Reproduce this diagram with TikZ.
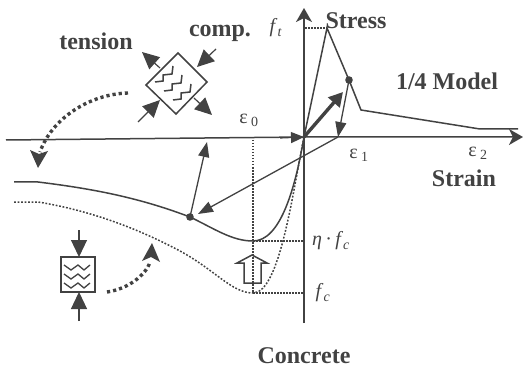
\documentclass[tikz,border=0pt]{standalone}
\usepackage{amsmath,amssymb}
\usepackage{fontspec}
\setmainfont{Liberation Serif}
\usetikzlibrary{arrows.meta}
\definecolor{inkgray}{gray}{0.26}
\tikzset{
	curveline/.style={draw=inkgray,line width=1.5pt},
	axisline/.style={draw=inkgray,line width=1.5pt,-{Stealth[length=14pt,width=16pt,inset=4pt]}},
	thinarrow/.style={draw=inkgray,line width=1.3pt,-{Triangle[length=15pt,width=11pt]}},
	loadarrow/.style={draw=inkgray,line width=1.2pt,-{Triangle[length=17pt,width=16pt]}},
	bigdots/.style={draw=inkgray,line width=3.4pt,dash pattern=on 3.2pt off 3pt},
	finedots/.style={draw=inkgray,line width=1.5pt,dash pattern=on 1.8pt off 1.7pt},
	guidedots/.style={draw=inkgray,line width=1.1pt,dash pattern=on 1.5pt off 1.5pt},
	boldlabel/.style={text=inkgray,font=\fontsize{24}{24}\selectfont\bfseries,inner sep=0pt},
	mathlabel/.style={text=inkgray,font=\fontsize{20}{20}\selectfont,inner sep=0pt},
}
\begin{document}
\begin{tikzpicture}[x=1pt,y=-1pt]
		\useasboundingbox (0,0) rectangle (523,369);
		% key points of the stress-strain path
		\coordinate (orig) at (304,137);
		\coordinate (peak) at (327,28);
		\coordinate (unload) at (338,137);
		\coordinate (upper) at (349,80);
		\coordinate (lower) at (190,217);
		
		% axes
		\draw[axisline] (6,140)--(orig)--(523,137);
		\draw[axisline] (304,323)--(304,8);
		\draw[draw=inkgray,line width=1.2pt,-{Triangle[length=13pt,width=11pt]}] (280,138)--(orig);
		
		% tension branch
		\draw[curveline] (orig)--(peak)--(upper)--(361,110)--(480,129)--(518,129);
		\draw[thinarrow] (upper)--(unload);
		\draw[draw=inkgray,line width=3.4pt,-{Triangle[length=14pt,width=15pt]}] (orig)--(343,92);
		\fill[inkgray] (upper) circle (3.8);
		
		% compression branches
		\draw[curveline] (14,182)--(38,182) .. controls (95,189) and (140,198) .. (lower)
			.. controls (215,229) and (232,241) .. (253,241)
			.. controls (280,241) and (295,190) .. (orig);
		\draw[finedots] (14,202)--(38,202) .. controls (100,212) and (150,235) .. (180,251)
			.. controls (215,270) and (232,293) .. (253,293)
			.. controls (280,293) and (293,190) .. (orig);
		\draw[thinarrow] (unload)--(198,214);
		\draw[thinarrow] (lower)--(207,142);
		\fill[inkgray] (lower) circle (3.8);
		
		% guide lines
		\draw[guidedots] (253,137)--(253,293);
		\draw[guidedots] (253,241)--(304,241);
		\draw[guidedots] (253,293)--(304,293);
		\draw[guidedots] (305,28)--(peak);
		
		% hollow arrow
		\draw[curveline] (252,255)--(267,263)--(261,263)--(261,283)--(244,283)--(244,263)--(237,263)--cycle;
		
		% diamond element
		\draw[curveline] (178,53)--(207,82)--(176,114)--(146,85)--cycle;
		\foreach \dx/\dy in {0/0,9/9,18/18}{
			\draw[curveline,shift={(\dx,\dy)}] (155,82)--(163,81)--(163,75)--(172,74)--(173,66);
		}
		\draw[loadarrow] (160,68)--(142,52);
		\draw[loadarrow] (194,98)--(212,115);
		\draw[loadarrow] (216,49)--(197,67);
		\draw[loadarrow] (138,122)--(160,100);
		
		% square element
		\draw[curveline] (61,257) rectangle (95,292);
		\foreach \dy in {0,9,18}{
			\draw[curveline,line width=1.3pt,shift={(0,\dy)}] (64,265)--(71,270)--(78,265)--(84,270)--(90,265);
		}
		\draw[loadarrow] (79,230)--(79,257);
		\draw[loadarrow] (79,321)--(79,292);
		
		% dotted transition arrows
		\draw[bigdots] (128,93) .. controls (90,94) and (52,118) .. (40,152);
		\fill[inkgray] (38,168)--(30,150)--(39,154)--(48,151)--cycle;
		\draw[bigdots] (107,292) .. controls (128,289) and (146,275) .. (150,262);
		\fill[inkgray] (152,243)--(142,261)--(151,257)--(160,262)--cycle;
		
		% labels
		\node[boldlabel] (tension) at (96,41) {tension};
		\node[boldlabel] (comp) at (220,33) {comp.};
		\node[boldlabel] (stress) at (356,21) {Stress};
		\node[boldlabel] (model) at (447,81) {1/4 Model};
		\node[boldlabel] (strain) at (464,178) {Strain};
		\node[boldlabel] (concrete) at (304,356) {Concrete};
		\node[mathlabel] (eps0) at (249,120) {ε\,\textsubscript{0}};
		\node[mathlabel] (eps1) at (359,155) {ε\,\textsubscript{1}};
		\node[mathlabel] (eps2) at (478,153) {ε\,\textsubscript{2}};
		\node[mathlabel] (ft) at (276,28) {\textit{f}\textsubscript{\textit{t}}};
		\node[mathlabel] (etafc) at (331,241) {\textit{η}\,·\,\textit{f}\textsubscript{\textit{c}}};
		\node[mathlabel] (fc) at (323,293) {\textit{f}\textsubscript{\textit{c}}};
	\end{tikzpicture}
\end{document}
